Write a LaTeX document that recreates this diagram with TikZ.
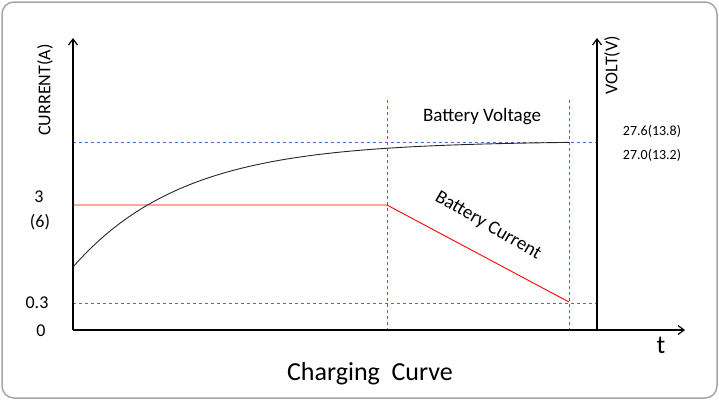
\documentclass[tikz,border=0pt]{standalone}
\usepackage{fontspec}
\setmainfont{Carlito}
\usetikzlibrary{arrows.meta}
\definecolor{gblue}{RGB}{70,110,200}
\begin{document}
\begin{tikzpicture}[x=1pt,y=-1pt,
  ax/.style={line width=1.2pt,-{Straight Barb[length=6pt,width=9pt]}},
  guide/.style={gblue,dashed,line width=0.6pt},
  lbl/.style={font=\fontsize{18}{20}\selectfont,inner sep=1pt},
  slbl/.style={font=\fontsize{14}{16}\selectfont,inner sep=1pt}]
\useasboundingbox (0,0) rectangle (719,400);
\draw[gray!70,line width=1.5pt,rounded corners=12pt] (2,2) rectangle (717,398);
\coordinate (O) at (73,330);
\coordinate (Ytop) at (73,38);
\coordinate (Xend) at (685,330);
\coordinate (R) at (597,330);
\coordinate (Rtop) at (597,38);
\draw[guide] (73,142) coordinate (g1) -- (597,142) coordinate (g1e);
\draw[guide] (73,303) coordinate (g2) -- (597,303) coordinate (g2e);
\draw[guide] (387,100) coordinate (v1) -- (387,330) coordinate (v1e);
\draw[guide] (569,100) coordinate (v2) -- (569,330) coordinate (v2e);
\draw[ax] (O) -- (Ytop);
\draw[ax] (O) -- (Xend);
\draw[ax] (R) -- (Rtop);
\draw[red,line width=0.9pt] (73,205) coordinate (c0) -- (387,205) coordinate (c1) -- (569,302) coordinate (c2);
\draw[black!85,line width=0.9pt,domain=73:569,samples=80] plot (\x,{141+126*exp(-(\x-73)/110)});
\node[lbl,rotate=90] (cur) at (45,90) {CURRENT(A)};
\node[lbl,rotate=90] (volt) at (612,65) {VOLT(V)};
\node[lbl] (n3) at (39,197) {3};
\node[lbl] (n6) at (40,222) {(6)};
\node[lbl] (n03) at (37,303) {0.3};
\node[lbl] (n0) at (41,331) {0};
\node[slbl] (v1l) at (652,131) {27.6(13.8)};
\node[slbl] (v2l) at (652,155) {27.0(13.2)};
\node[font=\fontsize{19}{21}\selectfont] (bv) at (482,117) {Battery Voltage};
\node[font=\fontsize{19}{21}\selectfont,rotate=-30] (bc) at (488,226) {Battery Current};
\node[font=\fontsize{26}{28}\selectfont] (t) at (661,345) {t};
\node[font=\fontsize{26}{28}\selectfont] (cc) at (370,374) {Charging\ \ Curve};
\end{tikzpicture}
\end{document}
